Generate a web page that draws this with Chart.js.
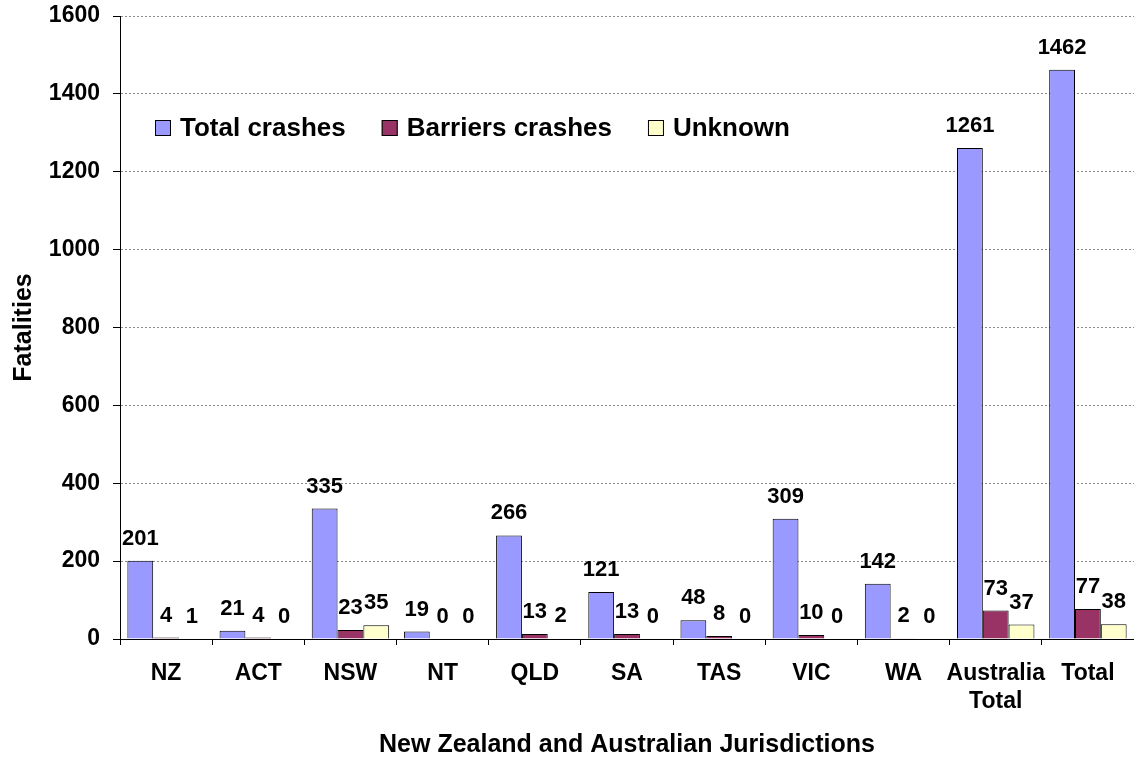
<!DOCTYPE html>
<html>
<head>
<meta charset="utf-8">
<script src="https://cdn.jsdelivr.net/npm/chart.js@4/dist/chart.umd.min.js"></script>
<style>
  html, body { margin: 0; padding: 0; background: #fff; }
  #wrap { width: 1134px; height: 758px; }
</style>
</head>
<body>
<div id="wrap"><canvas id="myChart"></canvas></div>
<script>
Chart.defaults.font.family = "'Liberation Sans', Arial, sans-serif";
Chart.defaults.font.weight = "bold";
Chart.defaults.color = "#000";

const jurisdictions = ["NZ", "ACT", "NSW", "NT", "QLD", "SA", "TAS", "VIC", "WA", ["Australia", "Total"], "Total"];
const totalCrashes = [201, 21, 335, 19, 266, 121, 48, 309, 142, 1261, 1462];
const barrierCrashes = [4, 4, 23, 0, 13, 13, 8, 10, 2, 73, 77];
const unknownCrashes = [1, 0, 35, 0, 2, 0, 0, 0, 0, 37, 38];
const yTicks = [0, 200, 400, 600, 800, 1000, 1200, 1400, 1600];

// value labels above each bar
const barLabels = {
  id: "barLabels",
  afterDatasetsDraw(chart) {
    const ctx = chart.ctx;
    ctx.save();
    ctx.font = "bold 22px 'Liberation Sans', Arial, sans-serif";
    ctx.fillStyle = "#000";
    ctx.textAlign = "center";
    ctx.textBaseline = "bottom";
    chart.data.datasets.forEach((ds, i) => {
      chart.getDatasetMeta(i).data.forEach((bar, j) => {
        ctx.fillText(String(ds.data[j]), bar.x, bar.y - 11);
      });
    });
    ctx.restore();
  },
};

// legend drawn inside the plot area, top left
const innerLegend = {
  id: "innerLegend",
  afterDraw(chart) {
    const ctx = chart.ctx;
    ctx.save();
    ctx.font = "bold 26px 'Liberation Sans', Arial, sans-serif";
    ctx.textBaseline = "middle";
    let x = 155;
    const y = 128;
    chart.data.datasets.forEach((ds) => {
      ctx.fillStyle = ds.backgroundColor;
      ctx.fillRect(x, y - 8, 16, 16);
      ctx.strokeStyle = "#000";
      ctx.lineWidth = 1;
      ctx.strokeRect(x + 0.5, y - 7.5, 15, 15);
      ctx.fillStyle = "#000";
      ctx.fillText(ds.label, x + 25, y + 1);
      x += 25 + ctx.measureText(ds.label).width + 36;
    });
    ctx.restore();
  },
};

const ctx = document.getElementById("myChart").getContext("2d");
const myChart = new Chart(ctx, {
  type: "bar",
  data: {
    labels: jurisdictions,
    datasets: [
      { label: "Total crashes", data: totalCrashes, backgroundColor: "#9999FF" },
      { label: "Barriers crashes", data: barrierCrashes, backgroundColor: "#993366" },
      { label: "Unknown", data: unknownCrashes, backgroundColor: "#FFFFCC" },
    ],
  },
  options: {
    responsive: true,
    maintainAspectRatio: false,
    animation: false,
    datasets: {
      bar: {
        borderColor: "#000",
        borderWidth: 1,
        categoryPercentage: 0.84,
        barPercentage: 1,
      },
    },
    layout: {
      padding: { top: 16, left: 0, right: 0, bottom: 0 },
    },
    scales: {
      x: {
        grid: {
          offset: true,
          drawOnChartArea: false,
          color: "#000",
          tickLength: 6,
        },
        border: { color: "#000", width: 1 },
        ticks: {
          font: { size: 23 },
          padding: 15,
          maxRotation: 0,
          autoSkip: false,
        },
        title: {
          display: true,
          text: "New Zealand and Australian Jurisdictions",
          font: { size: 25, lineHeight: 1 },
          padding: 0,
        },
        afterFit(scale) {
          scale.height = 119;
        },
      },
      y: {
        min: 0,
        max: 1600,
        afterBuildTicks(scale) {
          scale.ticks = yTicks.map((v) => ({ value: v }));
        },
        grid: {
          color: "#8a8a8a",
          tickColor: "#000",
          tickLength: 7,
        },
        border: { color: "#000", width: 1, dash: [2, 2] },
        ticks: {
          font: { size: 23 },
          padding: 13,
          callback: function (value) {
            return String(value);
          },
        },
        title: {
          display: true,
          text: "Fatalities",
          font: { size: 25 },
          padding: 9,
        },
        afterFit(scale) {
          scale.width = 120;
          scale.paddingTop = 4;
          scale.paddingBottom = 4;
        },
      },
    },
    plugins: {
      legend: { display: false },
      tooltip: { enabled: false },
    },
  },
  plugins: [barLabels, innerLegend],
});
</script>
</body>
</html>
